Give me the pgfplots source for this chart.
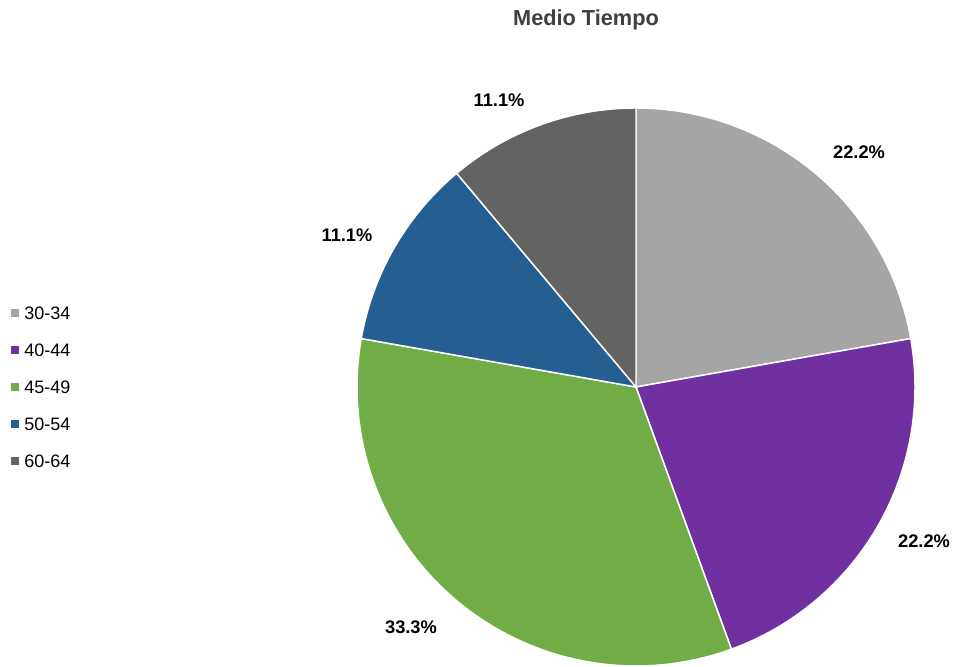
\documentclass[border=0pt]{standalone}
\usepackage{pgfplots}
\pgfplotsset{compat=1.18}
\usepackage{pgfplotstable}
\usepackage{fontspec}
\setmainfont{Liberation Sans}
\definecolor{c1}{HTML}{A5A5A5}
\definecolor{c2}{HTML}{7030A0}
\definecolor{c3}{HTML}{70AD47}
\definecolor{c4}{HTML}{255E91}
\definecolor{c5}{HTML}{636363}
\definecolor{titlec}{HTML}{404040}
\pgfplotstableread{
label value
30-34 2
40-44 2
45-49 3
50-54 1
60-64 1
}\piedata
\pgfplotstablegetelem{0}{value}\of\piedata \let\vA\pgfplotsretval%
\pgfplotstablegetelem{1}{value}\of\piedata \let\vB\pgfplotsretval%
\pgfplotstablegetelem{2}{value}\of\piedata \let\vC\pgfplotsretval%
\pgfplotstablegetelem{3}{value}\of\piedata \let\vD\pgfplotsretval%
\pgfplotstablegetelem{4}{value}\of\piedata \let\vE\pgfplotsretval%
\pgfmathsetmacro\total{\vA+\vB+\vC+\vD+\vE}%
\pgfmathsetmacro\aA{90}%
\pgfmathsetmacro\aB{\aA-360*\vA/\total}%
\pgfmathsetmacro\aC{\aB-360*\vB/\total}%
\pgfmathsetmacro\aD{\aC-360*\vC/\total}%
\pgfmathsetmacro\aE{\aD-360*\vD/\total}%
\pgfmathsetmacro\aF{\aE-360*\vE/\total}%
\pgfmathsetmacro\pA{100*\vA/\total}%
\pgfmathsetmacro\pB{100*\vB/\total}%
\pgfmathsetmacro\pC{100*\vC/\total}%
\pgfmathsetmacro\pD{100*\vD/\total}%
\pgfmathsetmacro\pE{100*\vE/\total}%
\def\cx{636}\def\cy{280}\def\R{279}%
\newcommand\pct[1]{\pgfmathprintnumber[fixed,precision=1,fixed zerofill,assume math mode=true]{#1}\%}
\begin{document}%
\begin{tikzpicture}
\begin{axis}[width=714.75pt,height=500.25pt,scale only axis,
  xmin=0,xmax=953,ymin=0,ymax=667,hide axis,clip=false,
  legend style={at={(axis cs:11,280)},anchor=west,draw=none,fill=none,
    font=\fontsize{13.5}{16}\selectfont,row sep=17.75pt,inner sep=0pt,
    nodes={inner sep=0pt,text height=10pt,text depth=0pt},
    /tikz/every odd column/.append style={column sep=3.75pt}},
  legend cell align=left,
  legend image code/.code={\fill[#1,draw=none] (0pt,-3pt) rectangle (6pt,3pt);}]
\addlegendimage{fill=c1}\addlegendentry{30-34}
\addlegendimage{fill=c2}\addlegendentry{40-44}
\addlegendimage{fill=c3}\addlegendentry{45-49}
\addlegendimage{fill=c4}\addlegendentry{50-54}
\addlegendimage{fill=c5}\addlegendentry{60-64}
\addplot[forget plot,fill=c1,draw=white,line width=1.1pt,domain=\aB:\aA,samples=80,variable=\t,no markers]
  ({\cx+\R*cos(\t)},{\cy+\R*sin(\t)}) -- (axis cs:\cx,\cy) -- cycle;
\addplot[forget plot,fill=c2,draw=white,line width=1.1pt,domain=\aC:\aB,samples=80,variable=\t,no markers]
  ({\cx+\R*cos(\t)},{\cy+\R*sin(\t)}) -- (axis cs:\cx,\cy) -- cycle;
\addplot[forget plot,fill=c3,draw=white,line width=1.1pt,domain=\aD:\aC,samples=100,variable=\t,no markers]
  ({\cx+\R*cos(\t)},{\cy+\R*sin(\t)}) -- (axis cs:\cx,\cy) -- cycle;
\addplot[forget plot,fill=c4,draw=white,line width=1.1pt,domain=\aE:\aD,samples=60,variable=\t,no markers]
  ({\cx+\R*cos(\t)},{\cy+\R*sin(\t)}) -- (axis cs:\cx,\cy) -- cycle;
\addplot[forget plot,fill=c5,draw=white,line width=1.1pt,domain=\aF:\aE,samples=60,variable=\t,no markers]
  ({\cx+\R*cos(\t)},{\cy+\R*sin(\t)}) -- (axis cs:\cx,\cy) -- cycle;
\tikzset{lab/.style={font=\fontsize{13.7}{16}\selectfont\bfseries,text=black}}
\node[lab] at (axis cs:859,515) {\pct{\pA}};
\node[lab] at (axis cs:924,126) {\pct{\pB}};
\node[lab] at (axis cs:411,40) {\pct{\pC}};
\node[lab] at (axis cs:347,432) {\pct{\pD}};
\node[lab] at (axis cs:499,567) {\pct{\pE}};
\node[font=\fontsize{16.3}{19}\selectfont\bfseries,text=titlec] at (axis cs:586,647) {Medio Tiempo};
\end{axis}
\pgfresetboundingbox
\path (current axis.south west) rectangle (current axis.north east);
\end{tikzpicture}%
\end{document}
